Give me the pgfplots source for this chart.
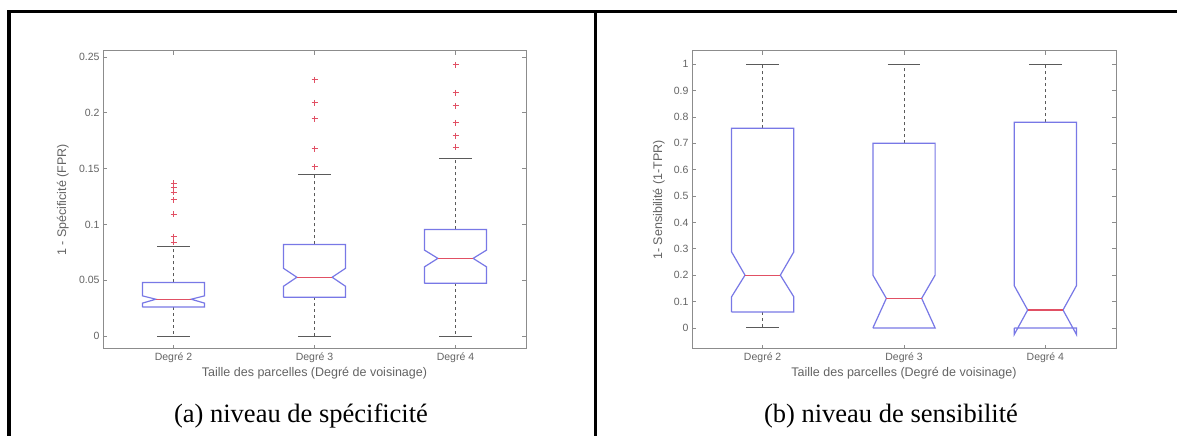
\documentclass[border=0pt]{standalone}
\usepackage{pgfplots}
\pgfplotsset{compat=1.18}
\usepackage{fontspec}
\setmainfont{Liberation Sans}
\newfontfamily\capfont{Liberation Serif}
\definecolor{mblue}{RGB}{120,120,230}
\definecolor{mred}{RGB}{225,80,100}
\definecolor{axgray}{RGB}{140,140,140}
\definecolor{txtgray}{RGB}{100,100,100}
\definecolor{wgray}{RGB}{90,90,90}
\pgfplotsset{
 mstyle/.style={
  scale only axis, height=298pt, anchor=south west,
  xmin=0.5, xmax=3.5, xtick={1,2,3}, xticklabels={Degré 2,Degré 3,Degré 4},
  tick align=inside, tick pos=both, major tick length=4pt,
  axis line style={axgray, line width=1pt},
  every tick/.style={axgray, line width=0.8pt},
  tick label style={font=\fontsize{10.5}{12}\selectfont, text=txtgray},
  label style={font=\fontsize{12.5}{14}\selectfont, text=txtgray},
  xlabel={Taille des parcelles (Degré de voisinage)},
  xlabel style={at={(axis description cs:0.5,-0.08)}, anchor=center},
 },
 boxs/.style={mblue, line width=1.2pt, line join=miter},
 meds/.style={mred, line width=1.2pt},
 whisk/.style={wgray, line width=1pt, dash pattern=on 3pt off 3pt},
 caps/.style={wgray, line width=1pt},
 outl/.style={only marks, mark=+, mark size=3pt, mred, mark options={line width=1pt}},
}
\begin{document}
\begin{tikzpicture}[x=1pt,y=1pt]
\path[use as bounding box, fill=white] (0,0) rectangle (1177,436);
% ---------- (a) ----------
\begin{axis}[mstyle, at={(103pt,87pt)}, width=423pt,
  ymin=-0.0116, ymax=0.2554,
  ytick={0,0.05,0.1,0.15,0.2,0.25}, yticklabels={0,0.05,0.1,0.15,0.2,0.25},
  ylabel={1 - Spécificité (FPR)},
  ylabel style={at={(axis description cs:-0.095,0.5)}, anchor=center}]
% whiskers
\addplot[whisk] coordinates {(1,0.048) (1,0.0804)};
\addplot[whisk] coordinates {(1,0.026) (1,0)};
\addplot[whisk] coordinates {(2,0.0821) (2,0.1446)};
\addplot[whisk] coordinates {(2,0.0348) (2,0)};
\addplot[whisk] coordinates {(3,0.0955) (3,0.159)};
\addplot[whisk] coordinates {(3,0.0473) (3,0)};
% caps
\addplot[caps] coordinates {(0.885,0.0804) (1.115,0.0804)};
\addplot[caps] coordinates {(0.885,0) (1.115,0)};
\addplot[caps] coordinates {(1.885,0.1446) (2.115,0.1446)};
\addplot[caps] coordinates {(1.885,0) (2.115,0)};
\addplot[caps] coordinates {(2.885,0.159) (3.115,0.159)};
\addplot[caps] coordinates {(2.885,0) (3.115,0)};
% boxes
\addplot[boxs] coordinates {(0.78,0.026) (0.78,0.0295) (0.875,0.033) (0.78,0.036) (0.78,0.048) (1.22,0.048) (1.22,0.036) (1.125,0.033) (1.22,0.0295) (1.22,0.026) (0.78,0.026)};
\addplot[boxs] coordinates {(1.78,0.0348) (1.78,0.0446) (1.875,0.0527) (1.78,0.0607) (1.78,0.0821) (2.22,0.0821) (2.22,0.0607) (2.125,0.0527) (2.22,0.0446) (2.22,0.0348) (1.78,0.0348)};
\addplot[boxs] coordinates {(2.78,0.0473) (2.78,0.062) (2.875,0.0696) (2.78,0.077) (2.78,0.0955) (3.22,0.0955) (3.22,0.077) (3.125,0.0696) (3.22,0.062) (3.22,0.0473) (2.78,0.0473)};
% medians
\addplot[meds] coordinates {(0.875,0.033) (1.125,0.033)};
\addplot[meds] coordinates {(1.875,0.0527) (2.125,0.0527)};
\addplot[meds] coordinates {(2.875,0.0696) (3.125,0.0696)};
% outliers
\addplot[outl] coordinates {(1,0.137) (1,0.133) (1,0.129) (1,0.122) (1,0.109) (1,0.089) (1,0.084)};
\addplot[outl] coordinates {(2,0.2295) (2,0.2089) (2,0.1946) (2,0.168) (2,0.1518)};
\addplot[outl] coordinates {(3,0.2429) (3,0.2179) (3,0.2063) (3,0.191) (3,0.1795) (3,0.169)};
\end{axis}
% ---------- (b) ----------
\begin{axis}[mstyle, at={(692pt,87pt)}, width=424pt,
  ymin=-0.08, ymax=1.05,
  ytick={0,0.1,0.2,0.3,0.4,0.5,0.6,0.7,0.8,0.9,1},
  yticklabels={0,0.1,0.2,0.3,0.4,0.5,0.6,0.7,0.8,0.9,1},
  ylabel={1- Sensibilité (1-TPR)},
  ylabel style={at={(axis description cs:-0.078,0.5)}, anchor=center}]
\addplot[whisk] coordinates {(1,0.757) (1,1)};
\addplot[whisk] coordinates {(1,0.06) (1,0)};
\addplot[whisk] coordinates {(2,0.7) (2,1)};
\addplot[whisk] coordinates {(3,0.78) (3,1)};
\addplot[caps] coordinates {(0.885,1) (1.115,1)};
\addplot[caps] coordinates {(0.885,0) (1.115,0)};
\addplot[caps] coordinates {(1.885,1) (2.115,1)};
\addplot[caps] coordinates {(2.885,1) (3.115,1)};
\addplot[boxs] coordinates {(0.78,0.06) (0.78,0.118) (0.875,0.2) (0.78,0.288) (0.78,0.757) (1.22,0.757) (1.22,0.288) (1.125,0.2) (1.22,0.118) (1.22,0.06) (0.78,0.06)};
\addplot[boxs] coordinates {(1.78,0) (1.875,0.112) (1.78,0.2) (1.78,0.7) (2.22,0.7) (2.22,0.2) (2.125,0.112) (2.22,0) (1.78,0)};
\addplot[boxs] coordinates {(2.78,0) (2.78,-0.025) (2.875,0.068) (2.78,0.16) (2.78,0.78) (3.22,0.78) (3.22,0.16) (3.125,0.068) (3.22,-0.025) (3.22,0) (2.78,0)};
\addplot[meds] coordinates {(0.875,0.2) (1.125,0.2)};
\addplot[meds] coordinates {(1.875,0.112) (2.125,0.112)};
\addplot[meds] coordinates {(2.875,0.068) (3.125,0.068)};
\end{axis}
% frame and captions
\draw[line width=3.5pt] (9,0) -- (9,424.5) -- (1177,424.5);
\draw[line width=3.5pt] (595.5,0) -- (595.5,424.5);
\node[font=\capfont\fontsize{26.5}{30}\selectfont, anchor=base] at (301,13) {(a) niveau de spécificité};
\node[font=\capfont\fontsize{26.5}{30}\selectfont, anchor=base] at (891,13) {(b) niveau de sensibilité};
\end{tikzpicture}
\end{document}
